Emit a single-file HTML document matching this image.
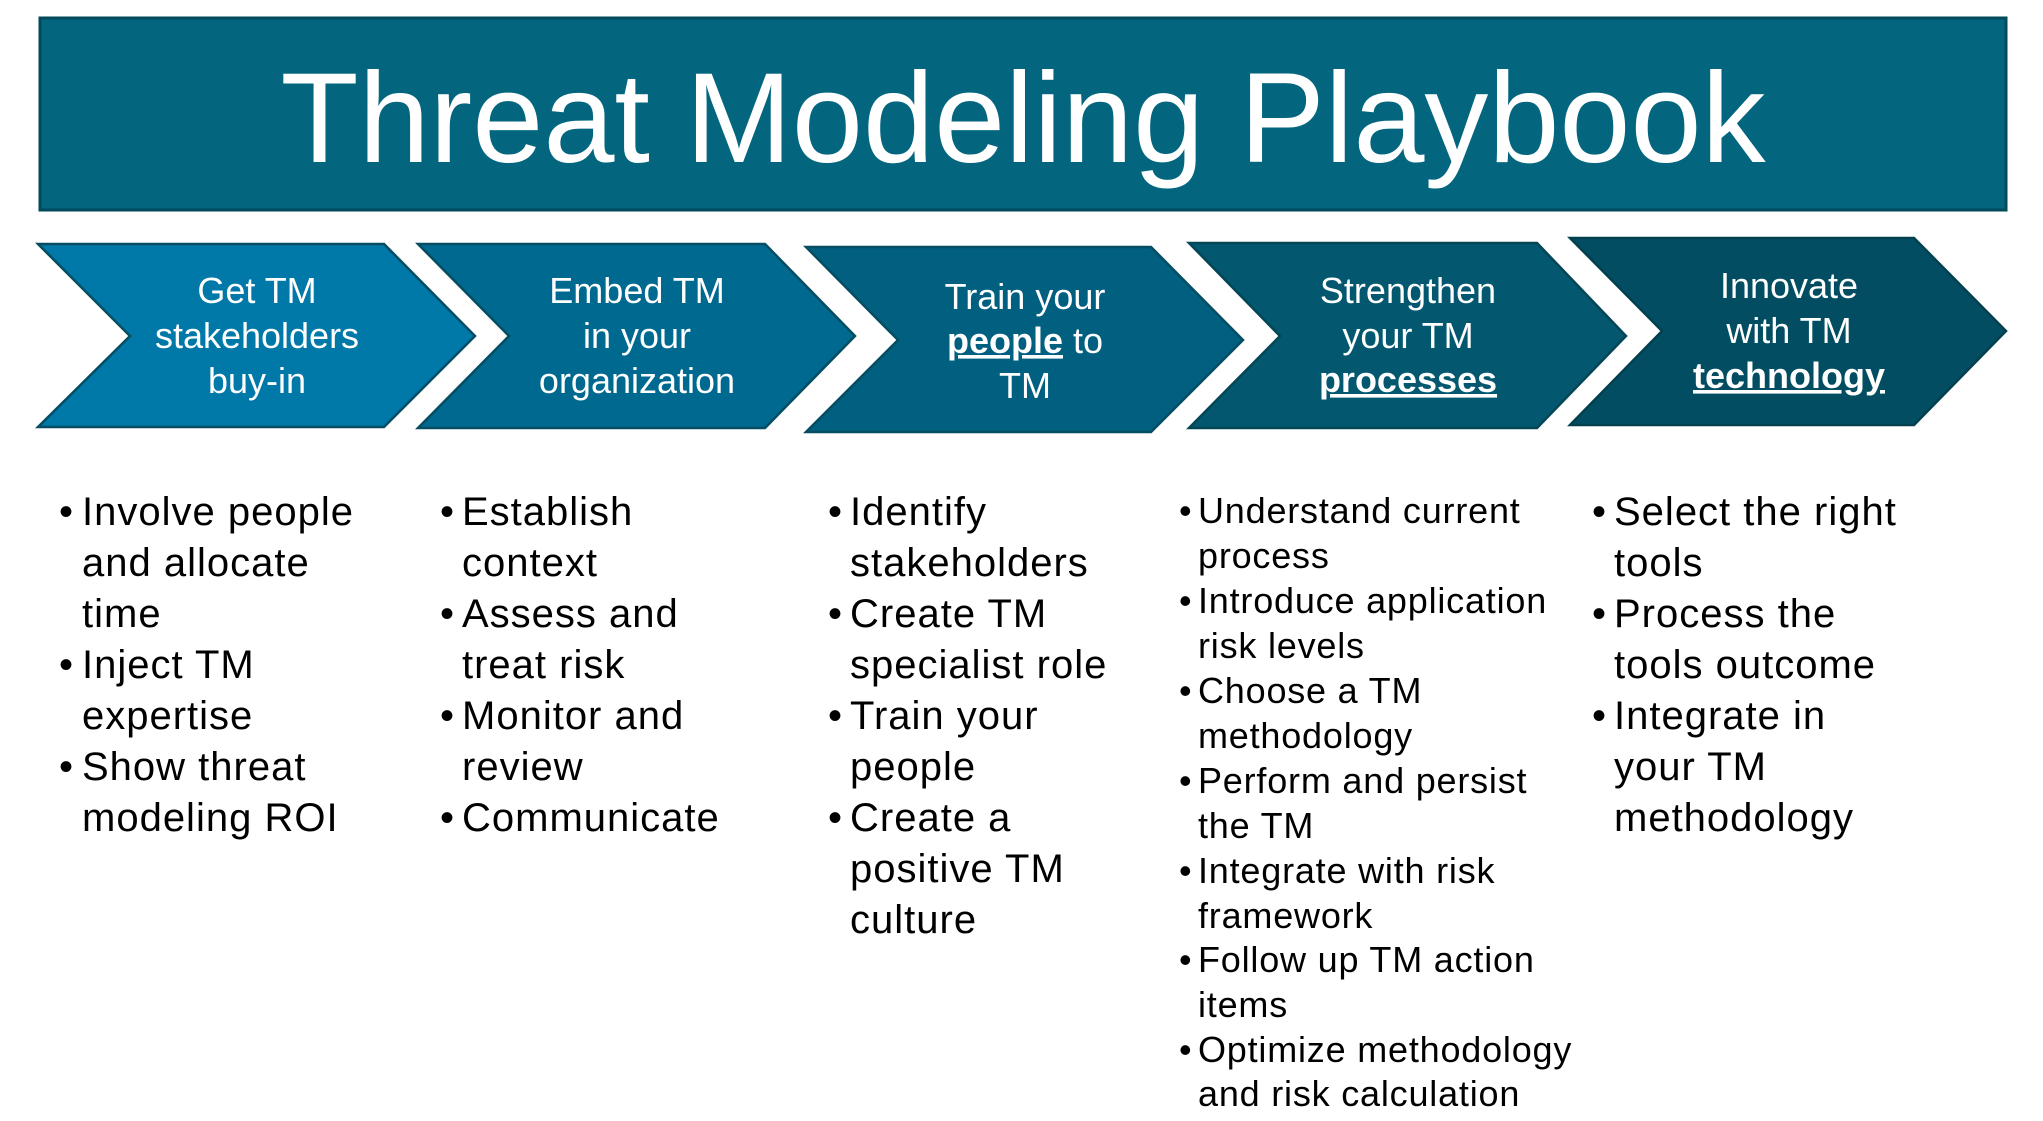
<!DOCTYPE html>
<html><head><meta charset="utf-8"><style>
html,body{margin:0;padding:0;background:#fff;}
svg{display:block;}
text{font-family:"Liberation Sans",Arial,sans-serif;}
</style></head><body>
<svg width="2043" height="1121" viewBox="0 0 2043 1121" xmlns="http://www.w3.org/2000/svg">
<rect x="40" y="18" width="1966" height="192" fill="#03667E" stroke="#02495C" stroke-width="3"/>
<text x="1023" y="162" text-anchor="middle" font-size="128" fill="#fff" textLength="1485" lengthAdjust="spacingAndGlyphs">Threat Modeling Playbook</text>

<g stroke-width="2.5">
<polygon points="38,244 384,244 475,336 384,427 38,427 130,336" fill="#0078A8" stroke="#044D62"/>
<polygon points="418,244 765,244 855,336 765,428 418,428 509,336" fill="#00698F" stroke="#044D62"/>
<polygon points="806,247 1151,247 1243,340 1151,432 806,432 898,340" fill="#015F80" stroke="#044D62"/>
<polygon points="1189,243 1537,243 1626,336 1537,428 1189,428 1280,336" fill="#035870" stroke="#044556"/>
<polygon points="1570,238 1914,238 2006,331 1914,425 1570,425 1662,331" fill="#024D62" stroke="#03404F"/>
</g>

<g font-size="36" fill="#fff" text-anchor="middle">
<text x="257" y="303">Get TM</text>
<text x="257" y="348">stakeholders</text>
<text x="257" y="393">buy-in</text>
<text x="637" y="303">Embed TM</text>
<text x="637" y="348">in your</text>
<text x="637" y="393">organization</text>
<text x="1025" y="309">Train your</text>
<text x="1025" y="353"><tspan font-weight="bold" text-decoration="underline">people</tspan> to</text>
<text x="1025" y="398">TM</text>
<text x="1408" y="303">Strengthen</text>
<text x="1408" y="348">your TM</text>
<text x="1408" y="392" font-weight="bold" text-decoration="underline">processes</text>
<text x="1789" y="298">Innovate</text>
<text x="1789" y="343">with TM</text>
<text x="1789" y="388" font-weight="bold" text-decoration="underline">technology</text>
</g>

<g font-size="40" fill="#000" letter-spacing="1">
<text x="59" y="525">•</text><text x="82" y="525">Involve people</text>
<text x="82" y="576">and allocate</text>
<text x="82" y="627">time</text>
<text x="59" y="678">•</text><text x="82" y="678">Inject TM</text>
<text x="82" y="729">expertise</text>
<text x="59" y="780">•</text><text x="82" y="780">Show threat</text>
<text x="82" y="831">modeling ROI</text>

<text x="440" y="525">•</text><text x="462" y="525">Establish</text>
<text x="462" y="576">context</text>
<text x="440" y="627">•</text><text x="462" y="627">Assess and</text>
<text x="462" y="678">treat risk</text>
<text x="440" y="729">•</text><text x="462" y="729">Monitor and</text>
<text x="462" y="780">review</text>
<text x="440" y="831">•</text><text x="462" y="831">Communicate</text>

<text x="828" y="525">•</text><text x="850" y="525">Identify</text>
<text x="850" y="576">stakeholders</text>
<text x="828" y="627">•</text><text x="850" y="627">Create TM</text>
<text x="850" y="678">specialist role</text>
<text x="828" y="729">•</text><text x="850" y="729">Train your</text>
<text x="850" y="780">people</text>
<text x="828" y="831">•</text><text x="850" y="831">Create a</text>
<text x="850" y="882">positive TM</text>
<text x="850" y="933">culture</text>

<text x="1592" y="525">•</text><text x="1614" y="525">Select the right</text>
<text x="1614" y="576">tools</text>
<text x="1592" y="627">•</text><text x="1614" y="627">Process the</text>
<text x="1614" y="678">tools outcome</text>
<text x="1592" y="729">•</text><text x="1614" y="729">Integrate in</text>
<text x="1614" y="780">your TM</text>
<text x="1614" y="831">methodology</text>
</g>

<g font-size="36" fill="#000" letter-spacing="0.8">
<text x="1179" y="523">•</text><text x="1198" y="523">Understand current</text>
<text x="1198" y="568">process</text>
<text x="1179" y="613">•</text><text x="1198" y="613">Introduce application</text>
<text x="1198" y="658">risk levels</text>
<text x="1179" y="703">•</text><text x="1198" y="703">Choose a TM</text>
<text x="1198" y="748">methodology</text>
<text x="1179" y="793">•</text><text x="1198" y="793">Perform and persist</text>
<text x="1198" y="838">the TM</text>
<text x="1179" y="883">•</text><text x="1198" y="883">Integrate with risk</text>
<text x="1198" y="928">framework</text>
<text x="1179" y="972">•</text><text x="1198" y="972">Follow up TM action</text>
<text x="1198" y="1017">items</text>
<text x="1179" y="1062">•</text><text x="1198" y="1062">Optimize methodology</text>
<text x="1198" y="1106">and risk calculation</text>
</g>
</svg>
</body></html>
